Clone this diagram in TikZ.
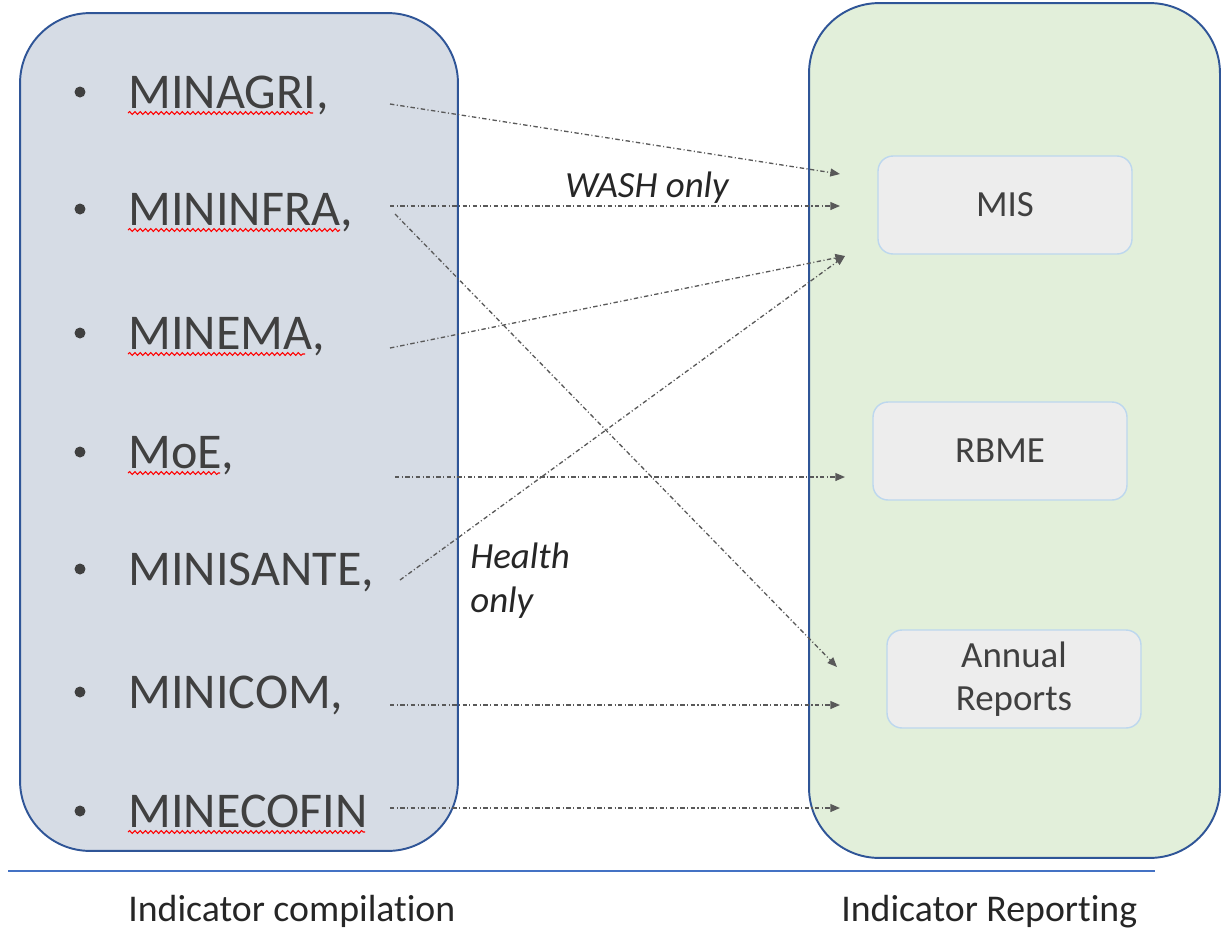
\documentclass[tikz,border=0pt]{standalone}
\usepackage{fontspec}
\setmainfont[Ligatures=NoCommon]{Carlito}
\usetikzlibrary{calc,arrows.meta,decorations.pathmorphing}
\definecolor{compbg}{HTML}{D6DCE5}
\definecolor{repbg}{HTML}{E2EFDA}
\definecolor{frame}{HTML}{2F5597}
\definecolor{boxbg}{HTML}{EDEDED}
\definecolor{boxline}{HTML}{BDD7EE}
\definecolor{rule}{HTML}{4472C4}
\definecolor{ink}{HTML}{404040}
\definecolor{flow}{HTML}{595959}
\definecolor{spell}{HTML}{FF0000}
\tikzset{
  panel/.style={draw=frame, line width=1.1pt, rounded corners=1.4cm, inner sep=0pt},
  sysbox/.style={draw=boxline, fill=boxbg, line width=0.8pt, rounded corners=0.3cm, minimum width=5.08cm, minimum height=1.96cm, text=ink, font=\fontsize{21}{24.5}\selectfont, align=center},
  item/.style={text=ink, font=\fontsize{28.5}{34}\selectfont, inner sep=0pt, anchor=base west},
  bullet/.style={circle, fill=ink, inner sep=0pt, minimum size=0.22cm},
  feed/.style={draw=flow, line width=0.75pt, dash pattern=on 2.5pt off 1.4pt on 0.6pt off 1.4pt, -{Triangle[length=5.5pt,width=4.5pt]}},
  note/.style={text=black!85, font=\fontsize{21}{25}\selectfont\itshape, inner sep=0pt},
  foot/.style={text=black!85, font=\fontsize{21.5}{25}\selectfont, inner sep=0pt, anchor=base west},
  squiggle/.style={draw=spell, line width=0.6pt, decorate, decoration={snake, amplitude=0.8pt, segment length=3pt}},
}

\begin{document}
\begin{tikzpicture}[x=0.02cm,y=-0.02cm]
  \useasboundingbox (0,0) rectangle (1221,944);
  \node[panel, fill=compbg, minimum width=8.76cm, minimum height=16.76cm] (compile) at (239,432) {};
  \node[panel, fill=repbg, minimum width=8.22cm, minimum height=17.1cm] (report) at (1014.5,430.5) {};

  \node[sysbox] (mis) at (1005,205) {MIS};
  \node[sysbox] (rbme) at (1000,451) {RBME};
  \node[sysbox] (annual) at (1014,679) {Annual\\Reports};

  \foreach \name/\txt/\yb in {agri/{MINAGRI,}/108, infra/{MININFRA,}/225, ema/{MINEMA,}/349, moe/{MoE,}/468, sante/{MINISANTE,}/585, com/{MINICOM,}/708, ecofin/MINECOFIN/827}{
    \node[bullet] (dot-\name) at (80,\yb-16) {};
    \node[item] (\name) at (128,\yb) {\txt};
  }
  \foreach \name/\len in {agri/185, infra/212, ema/177, moe/92, ecofin/237}
    \draw[squiggle] ($(\name.base west)+(0,5)$) -- ++(\len,0);

  \foreach \name/\x/\y in {agri-s/390/104, infra-s/390/206, infra-d/395/214, ema-s/390/348, moe-s/395/477, sante-s/400/580, com-s/390/705, ecofin-s/390/808, mis-a/840/174, mis-b/840/206, mis-c/845/256, rbme-a/845/477, ar-a/837/667, ar-b/840/705, rep-g/840/808}
    \coordinate (\name) at (\x,\y);
  \foreach \a/\b in {agri-s/mis-a, infra-s/mis-b, infra-d/ar-a, ema-s/mis-c, moe-s/rbme-a, sante-s/mis-c, com-s/ar-b, ecofin-s/rep-g}
    \draw[feed] (\a) -- (\b);

  \node[note, anchor=base] (wash) at (647,197) {WASH only};
  \node[note, anchor=base west, align=left] (health) at (470,612) {Health\\only};

  \draw[draw=rule, line width=1pt] (8,871) -- (1155,871);
  \node[foot] (compile-lbl) at (128,921) {Indicator compilation};
  \node[foot] (report-lbl) at (841,921) {Indicator Reporting};
\end{tikzpicture}
\end{document}
